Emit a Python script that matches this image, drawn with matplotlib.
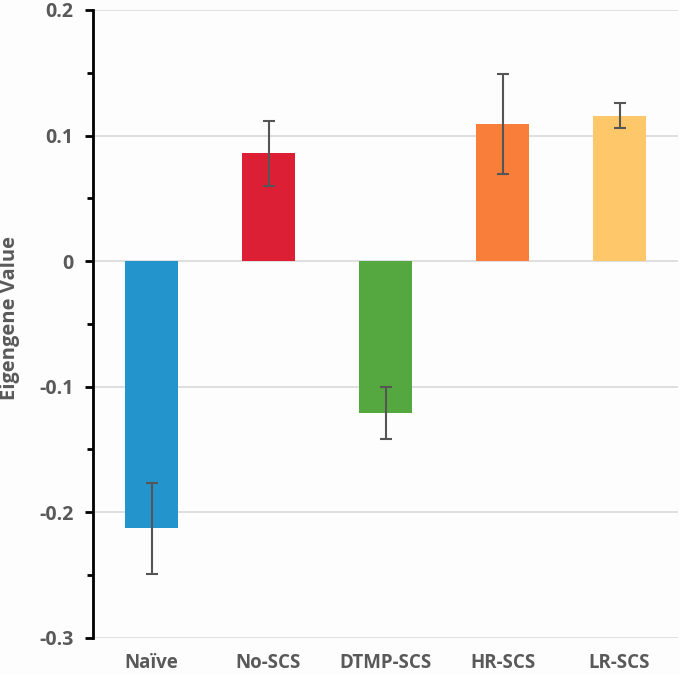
import matplotlib
matplotlib.use("Agg")
import matplotlib.pyplot as plt
from matplotlib.ticker import MultipleLocator, FuncFormatter

categories = ["Naïve", "No-SCS", "DTMP-SCS", "HR-SCS", "LR-SCS"]
values = [-0.213, 0.0857, -0.121, 0.1094, 0.1158]
errors = [0.036, 0.026, 0.0205, 0.040, 0.0101]
colors = ["#2394cc", "#dc1f35", "#55a83f", "#f87e3a", "#fec76a"]

plt.rcParams['font.family'] = ['Open Sans', 'DejaVu Sans']
text_color = "#595959"

fig = plt.figure(figsize=(6.8, 6.75), dpi=100, facecolor="#fdfdfd")
ax = fig.add_axes([93/680, 37.3/675, 585/680, 627.7/675])
ax.set_facecolor("#fdfdfd")

x = list(range(len(categories)))
ax.bar(x, values, width=0.46, color=colors, zorder=3)
ax.errorbar(x, values, yerr=errors, fmt='none', ecolor="#555555",
            elinewidth=1.5, capsize=4, capthick=1.5, zorder=4)

ax.set_xlim(-0.5, 4.5)
ax.set_ylim(-0.3, 0.2)
ax.yaxis.set_major_locator(MultipleLocator(0.1))
ax.yaxis.set_minor_locator(MultipleLocator(0.05))
ax.yaxis.set_major_formatter(FuncFormatter(lambda v, p: f"{round(v, 1):g}"))
ax.grid(axis='y', which='major', color="#d9d9d9", linewidth=1.2, zorder=0)
ax.set_axisbelow(True)

for s in ['top', 'right', 'bottom']:
    ax.spines[s].set_visible(False)
ax.spines['left'].set_linewidth(2)
ax.spines['left'].set_color("black")

ax.tick_params(axis='y', which='major', length=6, width=2, color='black',
               labelsize=14, labelcolor=text_color, pad=8)
ax.tick_params(axis='y', which='minor', length=4, width=2, color='black')
ax.tick_params(axis='x', length=0, labelsize=13.5, labelcolor=text_color, pad=11)
ax.set_xticks(x)
ax.set_xticklabels(categories)
for lab in ax.get_xticklabels() + ax.get_yticklabels():
    lab.set_fontweight('bold')

ax.set_ylabel("Eigengene Value", fontsize=14.5, fontweight='bold', color=text_color)
ax.yaxis.set_label_coords(-0.124, 0.51)

fig.savefig("out.png", dpi=100, facecolor=fig.get_facecolor())
